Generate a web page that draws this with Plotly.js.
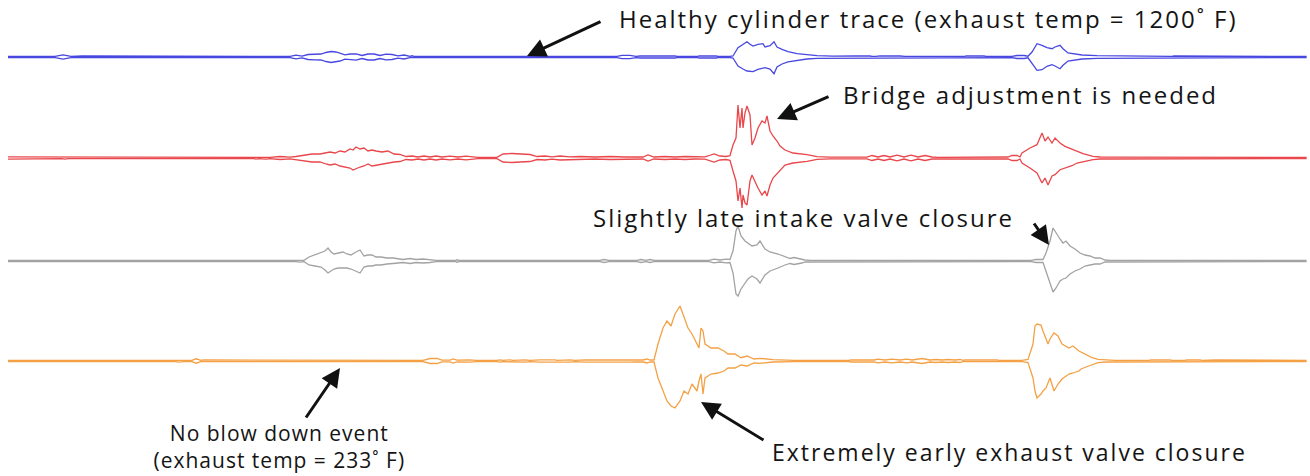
<!DOCTYPE html>
<html><head><meta charset="utf-8">
<script src="https://cdn.plot.ly/plotly-3.0.1.min.js"></script>
<style>
html,body{margin:0;padding:0;background:#fff;}
#chart{width:1310px;height:476px;}
.annotation-text{letter-spacing:2px;}
.annotation[data-index="3"] .annotation-text{letter-spacing:1px;}
</style></head><body><div id="chart"></div>
<script>
// Crank angle (deg) and envelope amplitude (upper / lower) for each cylinder trace
const blueAngle = [0, 23.5, 27.5, 31.5, 37, 45.5, 46.5, 88, 89, 102, 103, 122, 122.5, 123.5, 141, 144, 147, 150, 153.5, 156.5, 159, 161.5, 164, 166, 168.5, 171, 174, 177, 180, 183, 186, 189, 192, 195, 198, 201, 202, 203, 304.5, 307, 311, 314, 316, 333.5, 334.5, 345, 345.5, 354, 355, 361, 362.5, 365, 367.5, 369.5, 371, 372.5, 375, 377.5, 378.5, 381, 383, 384.5, 387, 390, 394.5, 399.5, 404.5, 412.5, 418.5, 423.5, 431, 432, 434, 436, 446, 448.5, 478.5, 479, 488, 489, 502, 504.5, 508, 510, 512, 514.5, 517, 519.5, 522, 523.5, 526, 527.5, 530, 532, 533.5, 537, 544.5, 553.5, 563.5, 576, 577, 582, 583, 596, 598.5, 603.5, 618.5, 619.5, 649];
const blueUpper = [0.6, 0.6, 2.2, 0.6, 1.0, 1.0, 0.6, 0.6, 1.0, 1.0, 0.6, 0.6, 1.3, 0.6, 0.6, 1.8, 0.8, 2.5, 2.8, 3, 4.5, 5.5, 5, 4, 2.2, 3, 3.2, 1.5, 3, 3, 1.5, 2.8, 2.5, 1.2, 2, 0.6, 1.2, 0.6, 0.6, 1.6, 1.6, 0.6, 1.0, 1.0, 0.6, 0.6, 1.0, 1.0, 0.6, 0.6, 1, 9.3, 13, 15.3, 12.7, 11, 12.7, 13.3, 10, 11.3, 15.3, 10, 7.7, 5.3, 3.3, 2, 1.3, 0.8, 0.6, 1.0, 1.0, 0.6, 0.6, 1.2, 1.0, 0.6, 0.6, 1.0, 1.0, 0.6, 0.6, 1.5, 1.5, 0.8, 5, 13.3, 11.7, 9.3, 8.3, 10, 11.7, 8.3, 4, 3.3, 2.7, 2, 1.3, 1, 0.7, 1.0, 0.6, 0.6, 1.0, 1.0, 0.6, 1.0, 1.0, 0.6, 0.6];
const blueLower = [0.6, 0.6, 2.2, 0.6, 1.0, 1.0, 0.6, 0.6, 1.0, 1.0, 0.6, 0.6, 1.3, 0.6, 0.6, 1.8, 0.8, 2.5, 2.8, 3, 4.5, 5.5, 5, 4, 2.2, 3, 3.2, 1.5, 3, 3, 1.5, 2.8, 2.5, 1.2, 2, 0.6, 1.2, 0.6, 0.6, 1.6, 1.6, 0.6, 1.0, 1.0, 0.6, 0.6, 1.0, 1.0, 0.6, 0.6, 1, 9, 12, 14, 14.5, 14.7, 12.3, 11, 10.7, 12, 16.7, 10, 7, 4.8, 3.3, 2, 1.3, 0.8, 0.6, 1.0, 1.0, 0.6, 0.6, 1.2, 1.0, 0.6, 0.6, 1.0, 1.0, 0.6, 0.6, 1.5, 1.5, 0.8, 6.7, 13.3, 12.7, 9.3, 7.7, 9, 11.7, 8.3, 4, 3, 2.7, 2, 1.3, 1, 0.7, 1.0, 0.6, 0.6, 1.0, 1.0, 0.6, 1.0, 1.0, 0.6, 0.6];

const redAngle = [0, 4.5, 5.5, 19.5, 21, 22.5, 27, 28.5, 30, 123, 124, 125.5, 129, 131, 136, 141, 144, 148.5, 152, 156, 159, 161, 163.5, 166, 168.5, 171, 172.5, 174, 176, 178, 180, 182, 184, 187, 190, 193, 196, 199, 202, 205, 208, 211, 214, 217, 221, 225, 229, 233, 235, 244.5, 247.5, 252, 256, 261, 264.5, 268.5, 272, 276, 281, 286, 293.5, 301, 308.5, 314.5, 317.5, 320, 323, 328.5, 333.5, 338.5, 343.5, 348.5, 350, 353, 356, 359, 361, 362.5, 364, 365, 366, 367, 367.5, 368.5, 369.5, 371, 372, 373.5, 375, 377, 378.5, 379.5, 381, 382.5, 384.5, 386, 388.5, 392.5, 399.5, 404.5, 411, 429.5, 432, 435, 438, 441, 444.5, 448, 451.5, 455, 458.5, 462, 465, 490, 491, 498.5, 500, 502, 504.5, 506, 507, 511, 514.5, 517, 518.5, 520, 522, 523.5, 526, 528.5, 532, 534.5, 537.5, 542.5, 546, 552.5, 560, 561, 568.5, 569.5, 585.5, 586, 600, 601, 649];
const redUpper = [1.2, 1.2, 0.6, 0.6, 1.2, 0.6, 0.6, 1.2, 0.6, 0.6, 1.2, 0.6, 1.2, 0.6, 1.5, 0.8, 1.5, 3, 4, 4, 5.5, 6, 5, 7, 6, 9, 8, 11, 9, 10, 7, 8, 7, 6, 7, 4, 3.5, 1.5, 2, 1, 2, 1, 2, 1, 1.8, 1, 1.8, 1, 0.6, 0.6, 4, 4.5, 4, 3.5, 1.5, 2, 1.2, 2, 1.2, 1.5, 1, 1.5, 1, 1.2, 1, 3, 1, 1.5, 1, 1.5, 1, 1.2, 2, 4, 2, 1.5, 2.3, 13, 20, 53, 30, 50, 30, 45, 52, 43, 13, 20, 30, 37, 35, 42, 27, 22, 17, 12, 8, 5, 3.3, 1.3, 0.8, 0.8, 2.5, 1, 2.5, 1, 2.8, 1, 2.8, 1, 2.5, 1, 0.6, 0.6, 1.0, 1.0, 1, 2.5, 2.5, 1, 5, 10, 13.3, 25, 17, 21, 15, 20, 15, 11.7, 9, 6.7, 4.3, 1.7, 1, 0.8, 0.8, 1.0, 1.0, 0.6, 0.6, 1.0, 1.0, 0.6, 0.6];
const redLower = [1.2, 1.2, 0.6, 0.6, 1.2, 0.6, 0.6, 1.2, 0.6, 0.6, 1.2, 0.6, 1.2, 0.6, 1.5, 0.8, 1.5, 3, 4, 4, 6, 7, 6, 8, 9, 10, 12, 11, 9, 8, 6, 8, 7, 6, 5, 4, 3.5, 1.5, 2, 1, 2, 1, 2, 1, 1.8, 1, 1.8, 1, 0.6, 0.6, 4, 4.5, 4, 3.5, 1.5, 2, 1.2, 2, 1.2, 1.5, 1, 1.5, 1, 1.2, 1, 3, 1, 1.5, 1, 1.5, 1, 1.2, 2, 4, 2, 1.5, 2.3, 13, 23, 43, 30, 50, 37, 45, 47, 23, 17, 23, 30, 37, 33, 38, 27, 20, 15, 12, 7, 5, 3.3, 1.3, 0.8, 0.8, 2.5, 1, 2.5, 1, 2.8, 1, 2.8, 1, 2.5, 1, 0.6, 0.6, 1.0, 1.0, 1, 2.5, 2.5, 1, 5, 10, 15, 25, 20, 27, 18, 16.7, 11.7, 10, 7.7, 5, 4, 1.7, 1, 0.8, 0.8, 1.0, 1.0, 0.6, 0.6, 1.0, 1.0, 0.6, 0.6];

const grayAngle = [0, 144, 146, 148, 150.5, 153.5, 156.5, 158.5, 160, 161.5, 163, 165, 167.5, 169.5, 171.5, 174, 176, 178, 180, 182, 184, 186.5, 189.5, 192.5, 194.5, 197.5, 201, 204, 207.5, 211, 214, 224, 224.5, 225.5, 296, 298, 300.5, 314.5, 316.5, 319, 321, 323, 350.5, 353, 356, 359, 361, 362.5, 364, 365, 366.5, 368.5, 370, 372, 374.5, 376, 378.5, 381, 385, 388.5, 391, 393, 395, 397, 398.5, 401, 439.5, 442, 444.5, 449, 451.5, 454, 458.5, 461, 463.5, 511.5, 514, 516, 517.5, 519, 521, 522.5, 524, 526, 527.5, 529, 531, 533.5, 536, 538.5, 541, 543.5, 546, 548.5, 551, 649];
const grayUpper = [0.6, 0.6, 1.2, 0.6, 4, 6, 8, 10, 13, 9, 7, 8, 9, 7, 6, 9, 11, 5, 6, 6, 4, 4, 3, 3, 2.5, 1.5, 2.5, 1.5, 2, 1.5, 0.6, 0.6, 1.2, 0.6, 0.6, 1.5, 0.6, 0.6, 1.5, 0.6, 1.5, 0.6, 0.6, 1.8, 1, 1.8, 1.5, 10, 30, 35, 25, 20, 18, 15, 16, 20, 12, 9, 7, 4, 2.5, 3.5, 2.5, 2, 1, 0.6, 0.6, 1.2, 0.6, 0.6, 1.2, 0.6, 0.6, 1.2, 0.6, 0.6, 1.5, 1.5, 1.5, 8, 20, 33, 28, 22, 18, 20, 15, 12, 8, 6, 5, 3, 3, 1, 0.6, 0.6];
const grayLower = [0.6, 0.6, 1.2, 0.6, 4, 5, 6, 9, 12, 10, 8, 7, 7, 7, 8, 10, 12, 6, 5, 5, 4, 4, 3, 2.5, 2.5, 1.5, 2.5, 1.5, 2, 1.5, 0.6, 0.6, 1.2, 0.6, 0.6, 1.5, 0.6, 0.6, 1.5, 0.6, 1.5, 0.6, 0.6, 1.8, 1, 1.8, 1.5, 12, 33, 35, 28, 22, 18, 15, 18, 22, 14, 10, 7, 4, 2.5, 3.5, 2.5, 2, 1, 0.6, 0.6, 1.2, 0.6, 0.6, 1.2, 0.6, 0.6, 1.2, 0.6, 0.6, 1.5, 1.5, 1.5, 10, 22, 31, 27, 20, 18, 17, 13, 10, 8, 5, 4, 3, 3, 1, 0.6, 0.6];

const orangeAngle = [0, 7.5, 9, 11, 13, 17, 18.5, 21.5, 84, 85, 88, 92, 94, 96.5, 97.5, 101, 102, 118.5, 119, 120, 141, 142, 145,
  207.5, 211, 214.5, 217, 221, 222.5, 224.5, 231, 234, 244.5, 246, 247.5, 251, 252.5, 258.5, 261, 266, 273.5, 274.5, 281, 283.5, 288.5, 295, 296, 301, 311, 313.5, 317.5, 319.5, 321,
  323, 325, 327.5, 329.5, 331.5, 333.5, 336, 338, 340, 342, 344.5, 345.5, 346.5, 347.5, 348.5, 351.5, 355, 358, 360, 363.5, 366.5, 369.5, 373, 376, 382.5, 393,
  420.5, 421.5, 433, 435, 438.5, 442, 446, 449.5, 452, 457, 461, 464, 467, 470, 473.5, 476, 477.5, 478.5, 494.5, 495.5,
  507, 510, 512.5, 513.5, 514.5, 516.5, 517.5, 519, 520, 521, 523, 525, 527, 530.5, 532.5, 535.5, 536.5, 539, 542, 545, 549.5, 553.5,
  570.5, 571.5, 581, 582, 588.5, 589.5, 596, 597, 603.5, 619, 620, 649];
const orangeUpper = [0.6, 0.6, 1.3, 0.8, 0.6, 0.6, 1.3, 0.6, 0.6, 1.2, 0.6, 0.6, 2.2, 0.6, 1.0, 1.0, 0.6, 0.6, 1.2, 0.6, 0.6, 1.2, 0.6,
  0.6, 2.5, 2.5, 0.8, 0.8, 2, 0.8, 1.2, 0.6, 0.6, 1.2, 0.6, 1.2, 0.6, 1.2, 0.6, 1.2, 1.2, 0.6, 1.2, 0.6, 1.2, 1.2, 0.6, 1.2, 1.2, 0.8, 1, 2, 1,
  1, 17, 33, 40, 35, 47, 55, 43, 33, 27, 17, 13, 33, 30, 17, 13, 13, 10, 7, 7, 3.3, 5, 2, 2.7, 1.3, 0.7,
  0.6, 1.0, 1.0, 1.8, 1, 1.8, 1, 1.8, 1, 2.5, 1, 1.5, 1, 1.5, 1, 1.5, 0.6, 1.0, 1.0, 0.6,
  0.6, 1.5, 17, 35, 37, 36, 30, 22, 17, 22, 28, 25, 17, 13, 15, 10, 9, 7, 3.3, 1.7, 1, 0.6,
  0.6, 1.0, 1.0, 0.6, 0.6, 1.0, 1.0, 0.6, 1.0, 1.0, 0.6, 0.6];
const orangeLower = [0.6, 0.6, 1.3, 0.8, 0.6, 0.6, 1.3, 0.6, 0.6, 1.2, 0.6, 0.6, 2.2, 0.6, 1.0, 1.0, 0.6, 0.6, 1.2, 0.6, 0.6, 1.2, 0.6,
  0.6, 2.5, 2.5, 0.8, 0.8, 2, 0.8, 1.2, 0.6, 0.6, 1.2, 0.6, 1.2, 0.6, 1.2, 0.6, 1.2, 1.2, 0.6, 1.2, 0.6, 1.2, 1.2, 0.6, 1.2, 1.2, 0.8, 1, 2, 1,
  1, 17, 30, 40, 45, 47, 40, 30, 33, 23, 30, 20, 13, 33, 17, 13, 12, 10, 7, 7, 4, 5, 2, 2.3, 1, 0.7,
  0.6, 1.0, 1.0, 1.8, 1, 1.8, 1, 1.8, 1, 2.5, 1, 1.5, 1, 1.5, 1, 1.5, 0.6, 1.0, 1.0, 0.6,
  0.6, 1.5, 17, 30, 37, 33, 30, 27, 22, 17, 30, 23, 18, 13, 12, 10, 8, 6, 3.5, 1.7, 1, 0.6,
  0.6, 1.0, 1.0, 0.6, 0.6, 1.0, 1.0, 0.6, 1.0, 1.0, 0.6, 0.6];

const seriesNames = ['Healthy cylinder', 'Bridge adjustment', 'Late intake closure', 'Early exhaust closure'];
const seriesColors = ['#4848e0', '#e9474b', '#a3a3a3', '#f4a145'];

// Annotation texts
const labelTexts = [
  'Healthy cylinder trace (exhaust temp = 1200˚ F)',
  'Bridge adjustment is needed',
  'Slightly late intake valve closure',
  'No blow down event<br>(exhaust temp = 233˚ F)',
  'Extremely early exhaust valve closure'
];

// ---------- build ----------
const W = 1310, H = 476, HALF = 56;
const baselinesPx = [57, 158, 261, 361];

function envelope(angle, upper, lower, name) {
  if (angle.length !== upper.length || angle.length !== lower.length) {
    throw new Error('length mismatch in ' + name + ': ' + angle.length + ' ' + upper.length + ' ' + lower.length);
  }
  const xs = angle.concat(angle.slice().reverse());
  const ys = upper.concat(lower.slice().reverse().map(v => -v));
  return {xs: xs, ys: ys};
}

const data = [
  [blueAngle, blueUpper, blueLower],
  [redAngle, redUpper, redLower],
  [grayAngle, grayUpper, grayLower],
  [orangeAngle, orangeUpper, orangeLower]
].map((s, i) => {
  const e = envelope(s[0], s[1], s[2], seriesNames[i]);
  return {
    type: 'scatter', mode: 'lines', name: seriesNames[i],
    x: e.xs, y: e.ys,
    xaxis: 'x', yaxis: i === 0 ? 'y' : 'y' + (i + 1),
    line: {color: seriesColors[i], width: 1.3},
    hoverinfo: 'skip'
  };
});

function dom(b) { return [(H - b - HALF) / H, (H - b + HALF) / H]; }

const layout = {
  width: W, height: H,
  margin: {l: 0, r: 0, t: 0, b: 0, pad: 0},
  paper_bgcolor: '#ffffff', plot_bgcolor: '#ffffff',
  showlegend: false,
  xaxis: {range: [-4, 651], visible: false, fixedrange: true},
  annotations: []
};
baselinesPx.forEach((b, i) => {
  const key = i === 0 ? 'yaxis' : 'yaxis' + (i + 1);
  layout[key] = {domain: dom(b), range: [-HALF, HALF], visible: false, anchor: 'x', fixedrange: true};
});

const px = v => v / W, py = v => 1 - v / H;
const textPos = [[928, 19], [1030, 95], [803, 218], [279, 446], [1009, 452]];
const textSize = [24, 24, 24, 21, 23];
labelTexts.forEach((t, i) => {
  layout.annotations.push({
    text: t, xref: 'paper', yref: 'paper', x: px(textPos[i][0]), y: py(textPos[i][1]),
    xanchor: 'center', yanchor: 'middle', align: 'center', showarrow: false,
    font: {family: 'Open Sans, sans-serif', size: textSize[i], color: '#141414'}
  });
});
// arrows: head position and tail offset
const arrows = [[527, 56, 75, -35], [777, 119, 53, -23], [1049, 245, -16, -23], [340, 368, -35, 51], [701, 402, 64, 39]];
arrows.forEach(a => {
  layout.annotations.push({
    text: '', xref: 'paper', yref: 'paper', x: px(a[0]), y: py(a[1]),
    ax: a[2], ay: a[3], showarrow: true, arrowhead: 2, arrowsize: 1.25, arrowwidth: 3,
    arrowcolor: '#111111', standoff: 0
  });
});

Plotly.newPlot('chart', data, layout, {staticPlot: true, displayModeBar: false});
</script></body></html>
